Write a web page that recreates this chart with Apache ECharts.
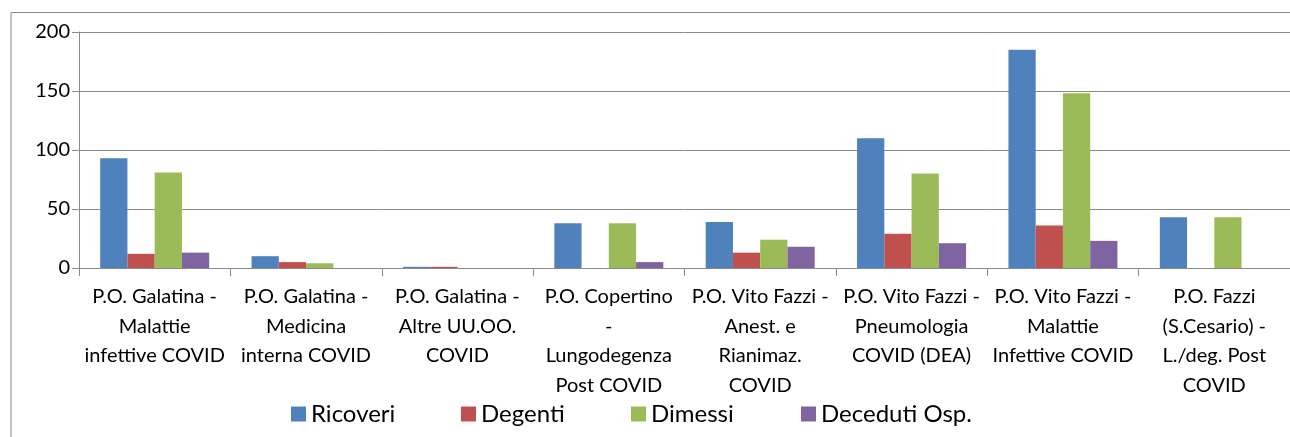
<!DOCTYPE html>
<html>
<head>
<meta charset="utf-8">
<script src="https://cdn.jsdelivr.net/npm/echarts@6/dist/echarts.min.js"></script>
<style>
html,body{margin:0;padding:0;background:#fff;}
#chart{width:1290px;height:437px;}
</style>
</head>
<body>
<div id="chart"></div>
<script>
var categories = [
  "P.O. Galatina -\nMalattie\ninfettive COVID",
  "P.O. Galatina -\nMedicina\ninterna COVID",
  "P.O. Galatina -\nAltre UU.OO.\nCOVID",
  "P.O. Copertino\n-\nLungodegenza\nPost COVID",
  "P.O. Vito Fazzi -\nAnest. e\nRianimaz.\nCOVID",
  "P.O. Vito Fazzi -\nPneumologia\nCOVID (DEA)",
  "P.O. Vito Fazzi -\nMalattie\nInfettive COVID",
  "P.O. Fazzi\n(S.Cesario) -\nL./deg. Post\nCOVID"
];
var seriesNames = ["Ricoveri", "Degenti", "Dimessi", "Deceduti Osp."];
var ricoveri = [93, 10, 1, 38, 39, 110, 185, 43];
var degenti  = [12, 5, 1, 0, 13, 29, 36, 0];
var dimessi  = [81, 4, 0, 38, 24, 80, 148, 43];
var deceduti = [13, 0, 0, 5, 18, 21, 23, 0];
var yTicks = [0, 50, 100, 150, 200];

var colors = ["#4F81BD", "#C0504D", "#9BBB59", "#8064A2"];
var values = [ricoveri, degenti, dimessi, deceduti];
var font = "Lato, 'Open Sans', sans-serif";

var chart = echarts.init(document.getElementById('chart'), null, {renderer: 'canvas'});
chart.setOption({
  animation: false,
  backgroundColor: '#fff',
  graphic: [{
    type: 'rect', silent: true, z: -10,
    shape: {x: 11, y: 12.5, width: 1400, height: 600},
    style: {fill: 'none', stroke: '#8a8a8a', lineWidth: 1}
  }],
  grid: {left: 79, right: -16, top: 32, bottom: 169, containLabel: false},
  legend: {
    left: 286, top: 396,
    icon: 'rect', itemWidth: 15, itemHeight: 15, itemGap: 0,
    textStyle: {fontFamily: font, fontSize: 24, lineHeight: 26, width: 150, color: '#000'},
    data: seriesNames
  },
  xAxis: {
    type: 'category',
    data: categories,
    axisLine: {lineStyle: {color: '#8a8a8a', width: 1}},
    axisTick: {show: true, length: 8, alignWithLabel: false, lineStyle: {color: '#8a8a8a'}},
    axisLabel: {interval: 0, margin: 14, fontFamily: font, fontSize: 20, lineHeight: 29.5, color: '#000', align: 'center'}
  },
  yAxis: {
    type: 'value', min: 0, max: 200, interval: 50,
    axisLine: {show: true, lineStyle: {color: '#8a8a8a', width: 1}},
    axisTick: {show: true, length: 7, lineStyle: {color: '#8a8a8a'}},
    splitLine: {lineStyle: {color: '#8a8a8a', width: 1}},
    axisLabel: {margin: 9, fontFamily: font, fontSize: 20, color: '#000',
      formatter: function (v) { return yTicks.indexOf(v) >= 0 ? String(v) : ''; }}
  },
  series: seriesNames.map(function (n, i) {
    return {
      name: n, type: 'bar', data: values[i],
      barGap: '0%', barCategoryGap: '28%',
      itemStyle: {color: colors[i]}
    };
  })
});
</script>
</body>
</html>
